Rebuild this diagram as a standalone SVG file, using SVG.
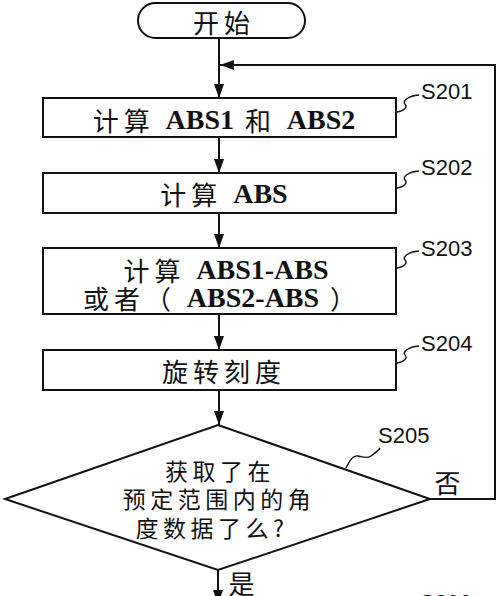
<svg xmlns="http://www.w3.org/2000/svg" width="500" height="596" viewBox="0 0 500 596">
<style>
.shape{fill:#fff;stroke:#111;stroke-width:2}
.line{fill:none;stroke:#111;stroke-width:2}
.sq{fill:none;stroke:#111;stroke-width:1.4}
.cn{font-family:"Noto Sans CJK SC","Noto Sans",sans-serif;font-size:26px;fill:#111;text-anchor:middle;dominant-baseline:central;letter-spacing:5px}
.dm{font-size:23px;letter-spacing:4.5px}
.lat{font-family:"Liberation Serif",serif;font-weight:bold;font-size:28px;letter-spacing:0}
.lbl{font-family:"Liberation Sans",Arial,sans-serif;font-size:22px;fill:#111}
</style>
<defs>
<marker id="ah" viewBox="0 0 14 10" refX="14" refY="5" markerWidth="14" markerHeight="10" markerUnits="userSpaceOnUse" orient="auto">
<path d="M0,0 L14,5 L0,10 Z" fill="#111"/>
</marker>
</defs>
<g id="connectors">
<line class="line" x1="219" y1="38" x2="219" y2="98" marker-end="url(#ah)"/>
<line class="line" x1="219" y1="137" x2="219" y2="173" marker-end="url(#ah)"/>
<line class="line" x1="219" y1="213" x2="219" y2="248" marker-end="url(#ah)"/>
<line class="line" x1="219" y1="314" x2="219" y2="350" marker-end="url(#ah)"/>
<line class="line" x1="219" y1="390" x2="219" y2="425" marker-end="url(#ah)"/>
<line class="line" x1="218" y1="570" x2="218" y2="604" marker-end="url(#ah)"/>
<polyline class="line" points="430,499 495,499 495,65 220,65" marker-end="url(#ah)"/>
<text class="cn" x="450" y="481">否</text>
<text class="cn" x="244" y="582">是</text>
</g>
<g id="start">
<rect class="shape" x="138" y="3" width="167" height="35" rx="17.5"/>
<text class="cn" x="224" y="21">开始</text>
</g>
<g id="s201">
<rect class="shape" x="43" y="98" width="353" height="39"/>
<text class="cn" x="224" y="119">计算 <tspan class="lat">ABS1</tspan> 和 <tspan class="lat">ABS2</tspan></text>
<path class="sq" d="M397,112 C404,111 408,107 405,104 C402,101 408,96 419,95"/>
<text class="lbl" x="421" y="99">S201</text>
</g>
<g id="s202">
<rect class="shape" x="43" y="173" width="353" height="40"/>
<text class="cn" x="224" y="193">计算 <tspan class="lat">ABS</tspan></text>
<path class="sq" d="M397,188 C404,187 408,183 405,180 C402,177 408,172 419,171"/>
<text class="lbl" x="421" y="175">S202</text>
</g>
<g id="s203">
<rect class="shape" x="43" y="248" width="353" height="66"/>
<text class="cn" x="226" y="269">计算 <tspan class="lat">ABS1-ABS</tspan></text>
<text class="cn" x="222" y="297">或者（ <tspan class="lat">ABS2-ABS</tspan> ）</text>
<path class="sq" d="M397,268 C404,267 408,263 405,260 C402,257 408,252 419,251"/>
<text class="lbl" x="421" y="256">S203</text>
</g>
<g id="s204">
<rect class="shape" x="43" y="350" width="353" height="40"/>
<text class="cn" x="224" y="370">旋转刻度</text>
<path class="sq" d="M397,363 C404,362 408,358 405,355 C402,352 408,347 419,346"/>
<text class="lbl" x="421" y="351">S204</text>
</g>
<g id="s205">
<polygon class="shape" points="218,425 430,499 218,570 5,499"/>
<text class="cn dm" x="220" y="470">获取了在</text>
<text class="cn dm" x="219" y="498">预定范围内的角</text>
<text class="cn dm" x="212" y="527">度数据了么?</text>
<path class="sq" d="M346,468 C350,460 353,455 358,456 C363,457 367,459 371,456 C375,453 378,451 380,448"/>
<text class="lbl" x="378" y="443">S205</text>
</g>
<g id="s206">
<text class="lbl" x="420" y="610">S206</text>
</g>
</svg>
